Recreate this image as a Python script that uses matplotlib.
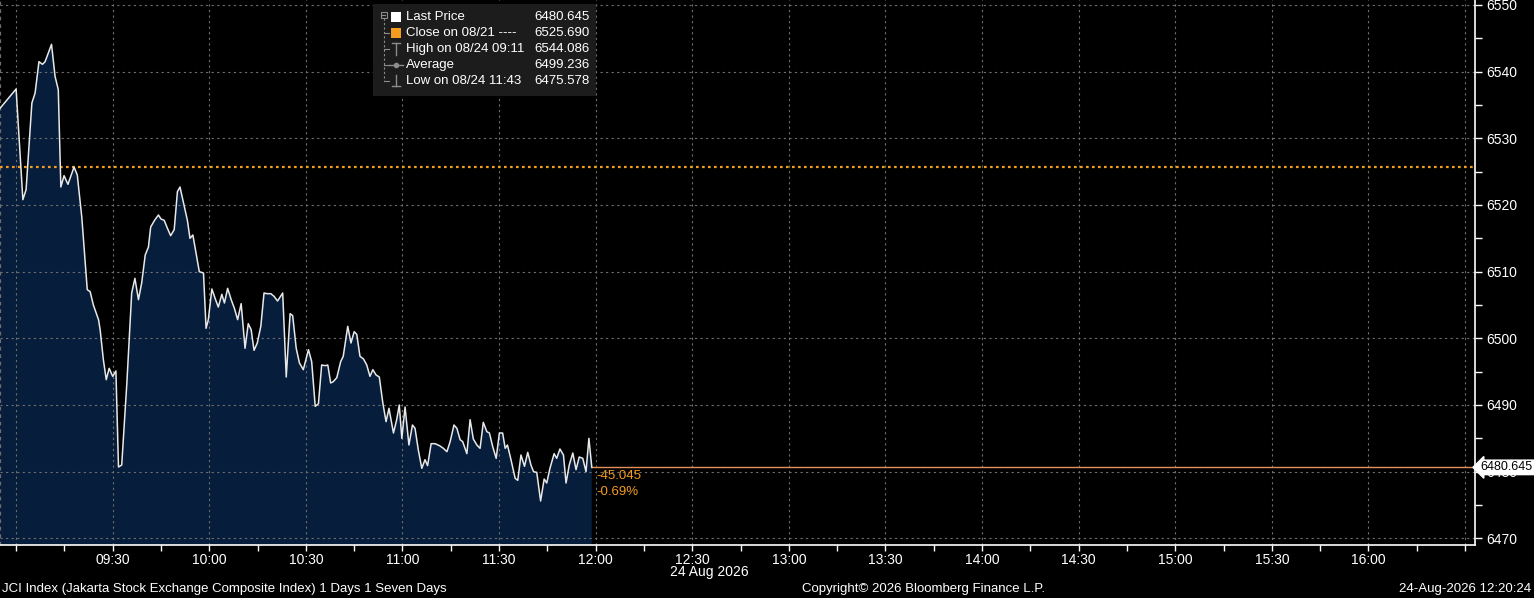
import matplotlib
matplotlib.use('Agg')
import matplotlib.pyplot as plt
from matplotlib.patches import Rectangle
from matplotlib.lines import Line2D
from matplotlib.ticker import FixedLocator, FuncFormatter

plt.rcParams['font.family'] = ['Liberation Sans', 'DejaVu Sans']

# minutes after 09:00 and JCI price (1-day intraday, 24 Aug 2026)
minutes = [-5.0, 0.0, 2.1, 3.1, 4.9, 5.9, 7.1, 8.2, 9.0, 11.0, 12.1, 13.1, 13.9, 14.9, 16.1,
           18.0, 19.0, 20.4, 22.1, 23.0, 24.0, 25.6, 26.1, 27.1, 28.0, 28.9, 30.0, 31.0, 31.8,
           32.8, 34.4, 35.9, 36.9, 38.0, 39.0, 40.1, 41.1, 41.8, 43.0, 44.2, 45.0, 46.0, 47.0,
           48.0, 49.1, 50.1, 50.9, 52.0, 53.2, 54.0, 54.9, 56.1, 56.9, 58.2, 59.0, 59.7, 60.8,
           61.8, 62.8, 63.9, 64.7, 65.7, 66.8, 67.8, 68.8, 69.9, 71.1, 72.1, 73.0, 73.9, 74.9,
           76.0, 77.0, 77.9, 79.1, 80.1, 81.2, 82.8, 83.9, 85.1, 85.9, 87.0, 88.0, 89.2, 90.8,
           91.8, 92.9, 93.9, 94.9, 96.0, 96.8, 97.7, 98.5, 99.6, 100.8, 101.6, 103.0, 104.0,
           105.0, 105.8, 106.8, 107.9, 108.9, 109.9, 110.8, 111.8, 112.8, 113.9, 114.9, 115.8,
           117.2, 118.2, 119.0, 119.8, 120.8, 122.0, 123.1, 123.9, 124.9, 126.0, 127.0, 127.8,
           128.9, 130.1, 131.5, 132.7, 133.8, 134.8, 136.0, 136.9, 137.9, 138.7, 140.0, 141.0,
           142.0, 143.1, 144.1, 145.1, 146.2, 147.0, 148.0, 149.1, 150.1, 151.1, 151.9, 152.6,
           153.6, 155.0, 155.8, 156.8, 157.9, 158.9, 159.9, 160.7, 161.7, 162.9, 164.0, 164.8,
           165.8, 167.1, 167.9, 168.9, 170.0, 170.8, 171.8, 172.9, 173.9, 174.9, 176.0, 177.0,
           177.9, 178.8]
prices = [6534.5, 6537.4, 6520.8, 6522.3, 6535.3, 6536.8, 6541.5, 6541.1, 6541.5, 6544.1,
          6539.3, 6537.3, 6522.7, 6524.4, 6523.1, 6525.7, 6524.5, 6518.2, 6507.3, 6507.0,
          6505.0, 6502.8, 6501.3, 6496.8, 6493.8, 6495.5, 6494.3, 6495.1, 6480.7, 6481.0,
          6493.3, 6506.8, 6509.0, 6505.8, 6508.3, 6512.5, 6513.7, 6516.7, 6517.7, 6518.5,
          6517.9, 6517.7, 6516.5, 6515.4, 6516.3, 6522.0, 6522.7, 6520.3, 6517.7, 6515.0,
          6515.5, 6512.2, 6510.0, 6509.8, 6501.5, 6502.8, 6507.4, 6506.0, 6504.7, 6506.6,
          6505.3, 6507.5, 6505.8, 6504.5, 6502.8, 6505.2, 6498.5, 6502.2, 6501.3, 6498.2,
          6499.3, 6501.8, 6506.8, 6506.7, 6506.7, 6506.3, 6505.6, 6506.8, 6494.2, 6503.7,
          6503.4, 6498.5, 6496.3, 6495.3, 6498.3, 6496.5, 6489.8, 6490.2, 6496.0, 6495.9,
          6496.0, 6493.3, 6493.5, 6494.1, 6496.5, 6497.3, 6501.8, 6499.3, 6501.0, 6500.6,
          6497.3, 6496.9, 6496.0, 6494.3, 6495.3, 6494.5, 6494.2, 6490.3, 6487.5, 6489.5,
          6485.8, 6487.8, 6490.0, 6485.0, 6489.7, 6484.0, 6487.0, 6486.5, 6483.3, 6480.5,
          6481.8, 6480.9, 6484.2, 6484.2, 6483.9, 6483.5, 6483.0, 6484.5, 6487.0, 6486.5,
          6484.8, 6484.5, 6482.7, 6487.8, 6484.9, 6484.0, 6483.5, 6487.4, 6486.0, 6485.8,
          6483.8, 6482.0, 6485.8, 6485.8, 6483.5, 6484.0, 6482.0, 6479.0, 6478.7, 6482.5,
          6480.8, 6482.9, 6481.0, 6480.0, 6479.9, 6475.6, 6478.9, 6478.3, 6480.5, 6482.7,
          6482.0, 6483.4, 6482.5, 6478.3, 6481.0, 6482.8, 6480.3, 6482.2, 6482.0, 6480.0,
          6485.0, 6480.645]

last_price = 6480.645
prev_close = 6525.690
change_txt = '-45.045'
change_pct = '-0.69%'

legend_labels = ['Last Price', 'Close on 08/21 ----', 'High on 08/24 09:11', 'Average', 'Low on 08/24 11:43']
legend_values = ['6480.645', '6525.690', '6544.086', '6499.236', '6475.578']

y_ticks = [6470, 6480, 6490, 6500, 6510, 6520, 6530, 6540, 6550]
x_major = list(range(0, 451, 30))
x_labels = {30: '09:30', 60: '10:00', 90: '10:30', 120: '11:00', 150: '11:30', 180: '12:00',
            210: '12:30', 240: '13:00', 270: '13:30', 300: '14:00', 330: '14:30', 360: '15:00',
            390: '15:30', 420: '16:00'}

W, H = 1534, 598
def fx(x):
    return x / W
def fy(y):
    return 1 - y / H

fg = 'white'
grid_c = '#6e6e6e'
orange = '#f39c1f'

fig = plt.figure(figsize=(W / 100, H / 100), dpi=100, facecolor='black')
ax = fig.add_axes([0, 53 / H, 1475 / W, 545 / H])
ax.set_facecolor('black')

ax.set_xlim(-5.0, 453.1)
ax.set_ylim(6469.0, 6550.75)

ax.fill_between(minutes, prices, 6400, color='#061d3b', lw=0, zorder=1)
ax.plot(minutes, prices, color='#e8e8e8', lw=1.1, zorder=3)

ax.axhline(prev_close, color=orange, lw=1.6, ls=(0, (1.2, 1.5)), zorder=2.5)
ax.plot([minutes[-1], 453.1], [last_price, last_price], color='#e8905a', lw=1.0, zorder=2.6)
ax.axvline(-4.9, color=grid_c, lw=0.9, ls=(0, (3, 3)), zorder=2)

ax.set_axisbelow('line')
ax.grid(True, which='major', color=grid_c, lw=0.8, ls=(0, (2, 3)))

for s in ['top', 'left']:
    ax.spines[s].set_visible(False)
for s in ['bottom', 'right']:
    ax.spines[s].set_color(fg)
    ax.spines[s].set_linewidth(1.2)

ax.yaxis.tick_right()
ax.yaxis.set_major_locator(FixedLocator(y_ticks))
ax.yaxis.set_minor_locator(FixedLocator([v + 5 for v in y_ticks[:-1]]))
ax.xaxis.set_major_locator(FixedLocator(x_major))
ax.xaxis.set_minor_locator(FixedLocator([v + 15 for v in x_major]))
ax.xaxis.set_major_formatter(FuncFormatter(lambda v, p: x_labels.get(int(round(v)), '')))
ax.tick_params(axis='y', which='both', colors=fg, length=5, width=1, labelsize=10, pad=3,
               right=True, left=False)
ax.tick_params(axis='x', which='both', colors=fg, length=4, width=1, labelsize=10, pad=2)

ax.annotate(f'{last_price:.3f}', xy=(1.0, last_price), xycoords=('axes fraction', 'data'),
            xytext=(4, 0), textcoords='offset points', ha='left', va='center',
            color='black', fontsize=9, annotation_clip=False, zorder=10,
            bbox=dict(boxstyle='larrow,pad=0.1', fc='white', ec='white'))

ax.text(minutes[-1] + 1.5, 6479.3, change_txt, color=orange, fontsize=9.5, ha='left', va='center')
ax.text(minutes[-1] + 1.5, 6476.9, change_pct, color=orange, fontsize=9.5, ha='left', va='center')

# legend box
fig.patches.append(Rectangle((fx(373), fy(96)), fx(596) - fx(373), fy(4) - fy(96),
                             transform=fig.transFigure, facecolor='#1c1c1c', edgecolor='none', zorder=1))
row_y = [17, 33, 49, 65, 81]
tree_c = '#8c8c8c'
def fline(xs, ys, **kw):
    fig.lines.append(Line2D([fx(x) for x in xs], [fy(y) for y in ys], transform=fig.transFigure, **kw))

fig.patches.append(Rectangle((fx(380.5), fy(17.5)), fx(386.5) - fx(380.5), fy(11.5) - fy(17.5),
                             transform=fig.transFigure, facecolor='none', edgecolor=tree_c, lw=0.8, zorder=2))
fline([381.8, 385.2], [14.5, 14.5], color=tree_c, lw=0.8, zorder=2)
fline([383.5, 383.5], [18, 81], color=tree_c, lw=0.8, ls=(0, (2, 2)), zorder=2)
for ry in row_y[1:]:
    fline([383.5, 389], [ry, ry], color=tree_c, lw=0.8, zorder=2)
fig.patches.append(Rectangle((fx(391), fy(22)), fx(401) - fx(391), fy(12) - fy(22),
                             transform=fig.transFigure, facecolor='white', edgecolor='none', zorder=2))
fig.patches.append(Rectangle((fx(391), fy(38)), fx(401) - fx(391), fy(28) - fy(38),
                             transform=fig.transFigure, facecolor=orange, edgecolor='none', zorder=2))
fline([392, 400], [43, 43], color=tree_c, lw=1, zorder=2)
fline([396, 396], [43, 55], color=tree_c, lw=1, zorder=2)
fline([389, 403], [65, 65], color=tree_c, lw=1, zorder=2)
fline([396], [65], color=tree_c, marker='o', ms=3, lw=0, zorder=2)
fline([396, 396], [75, 86], color=tree_c, lw=1, zorder=2)
fline([392, 400], [86, 86], color=tree_c, lw=1, zorder=2)
for ry, lab, val in zip(row_y, legend_labels, legend_values):
    fig.text(fx(406), fy(ry), lab, color=fg, fontsize=9.5, ha='left', va='center', zorder=3)
    fig.text(fx(590), fy(ry), val, color=fg, fontsize=9.5, ha='right', va='center', zorder=3)

# footer texts
fig.text(fx(709), fy(572), '24 Aug 2026', color=fg, fontsize=10, ha='center', va='center')
fig.text(fx(2), fy(589), 'JCI Index (Jakarta Stock Exchange Composite Index) 1 Days 1 Seven Days',
         color=fg, fontsize=9.5, ha='left', va='center')
fig.text(fx(924), fy(589), 'Copyright\u00a9 2026 Bloomberg Finance L.P.', color=fg, fontsize=9.5,
         ha='center', va='center')
fig.text(fx(1531), fy(589), '24-Aug-2026 12:20:24', color=fg, fontsize=9.5, ha='right', va='center')

fig.savefig('out.png', dpi=100, facecolor='black')
